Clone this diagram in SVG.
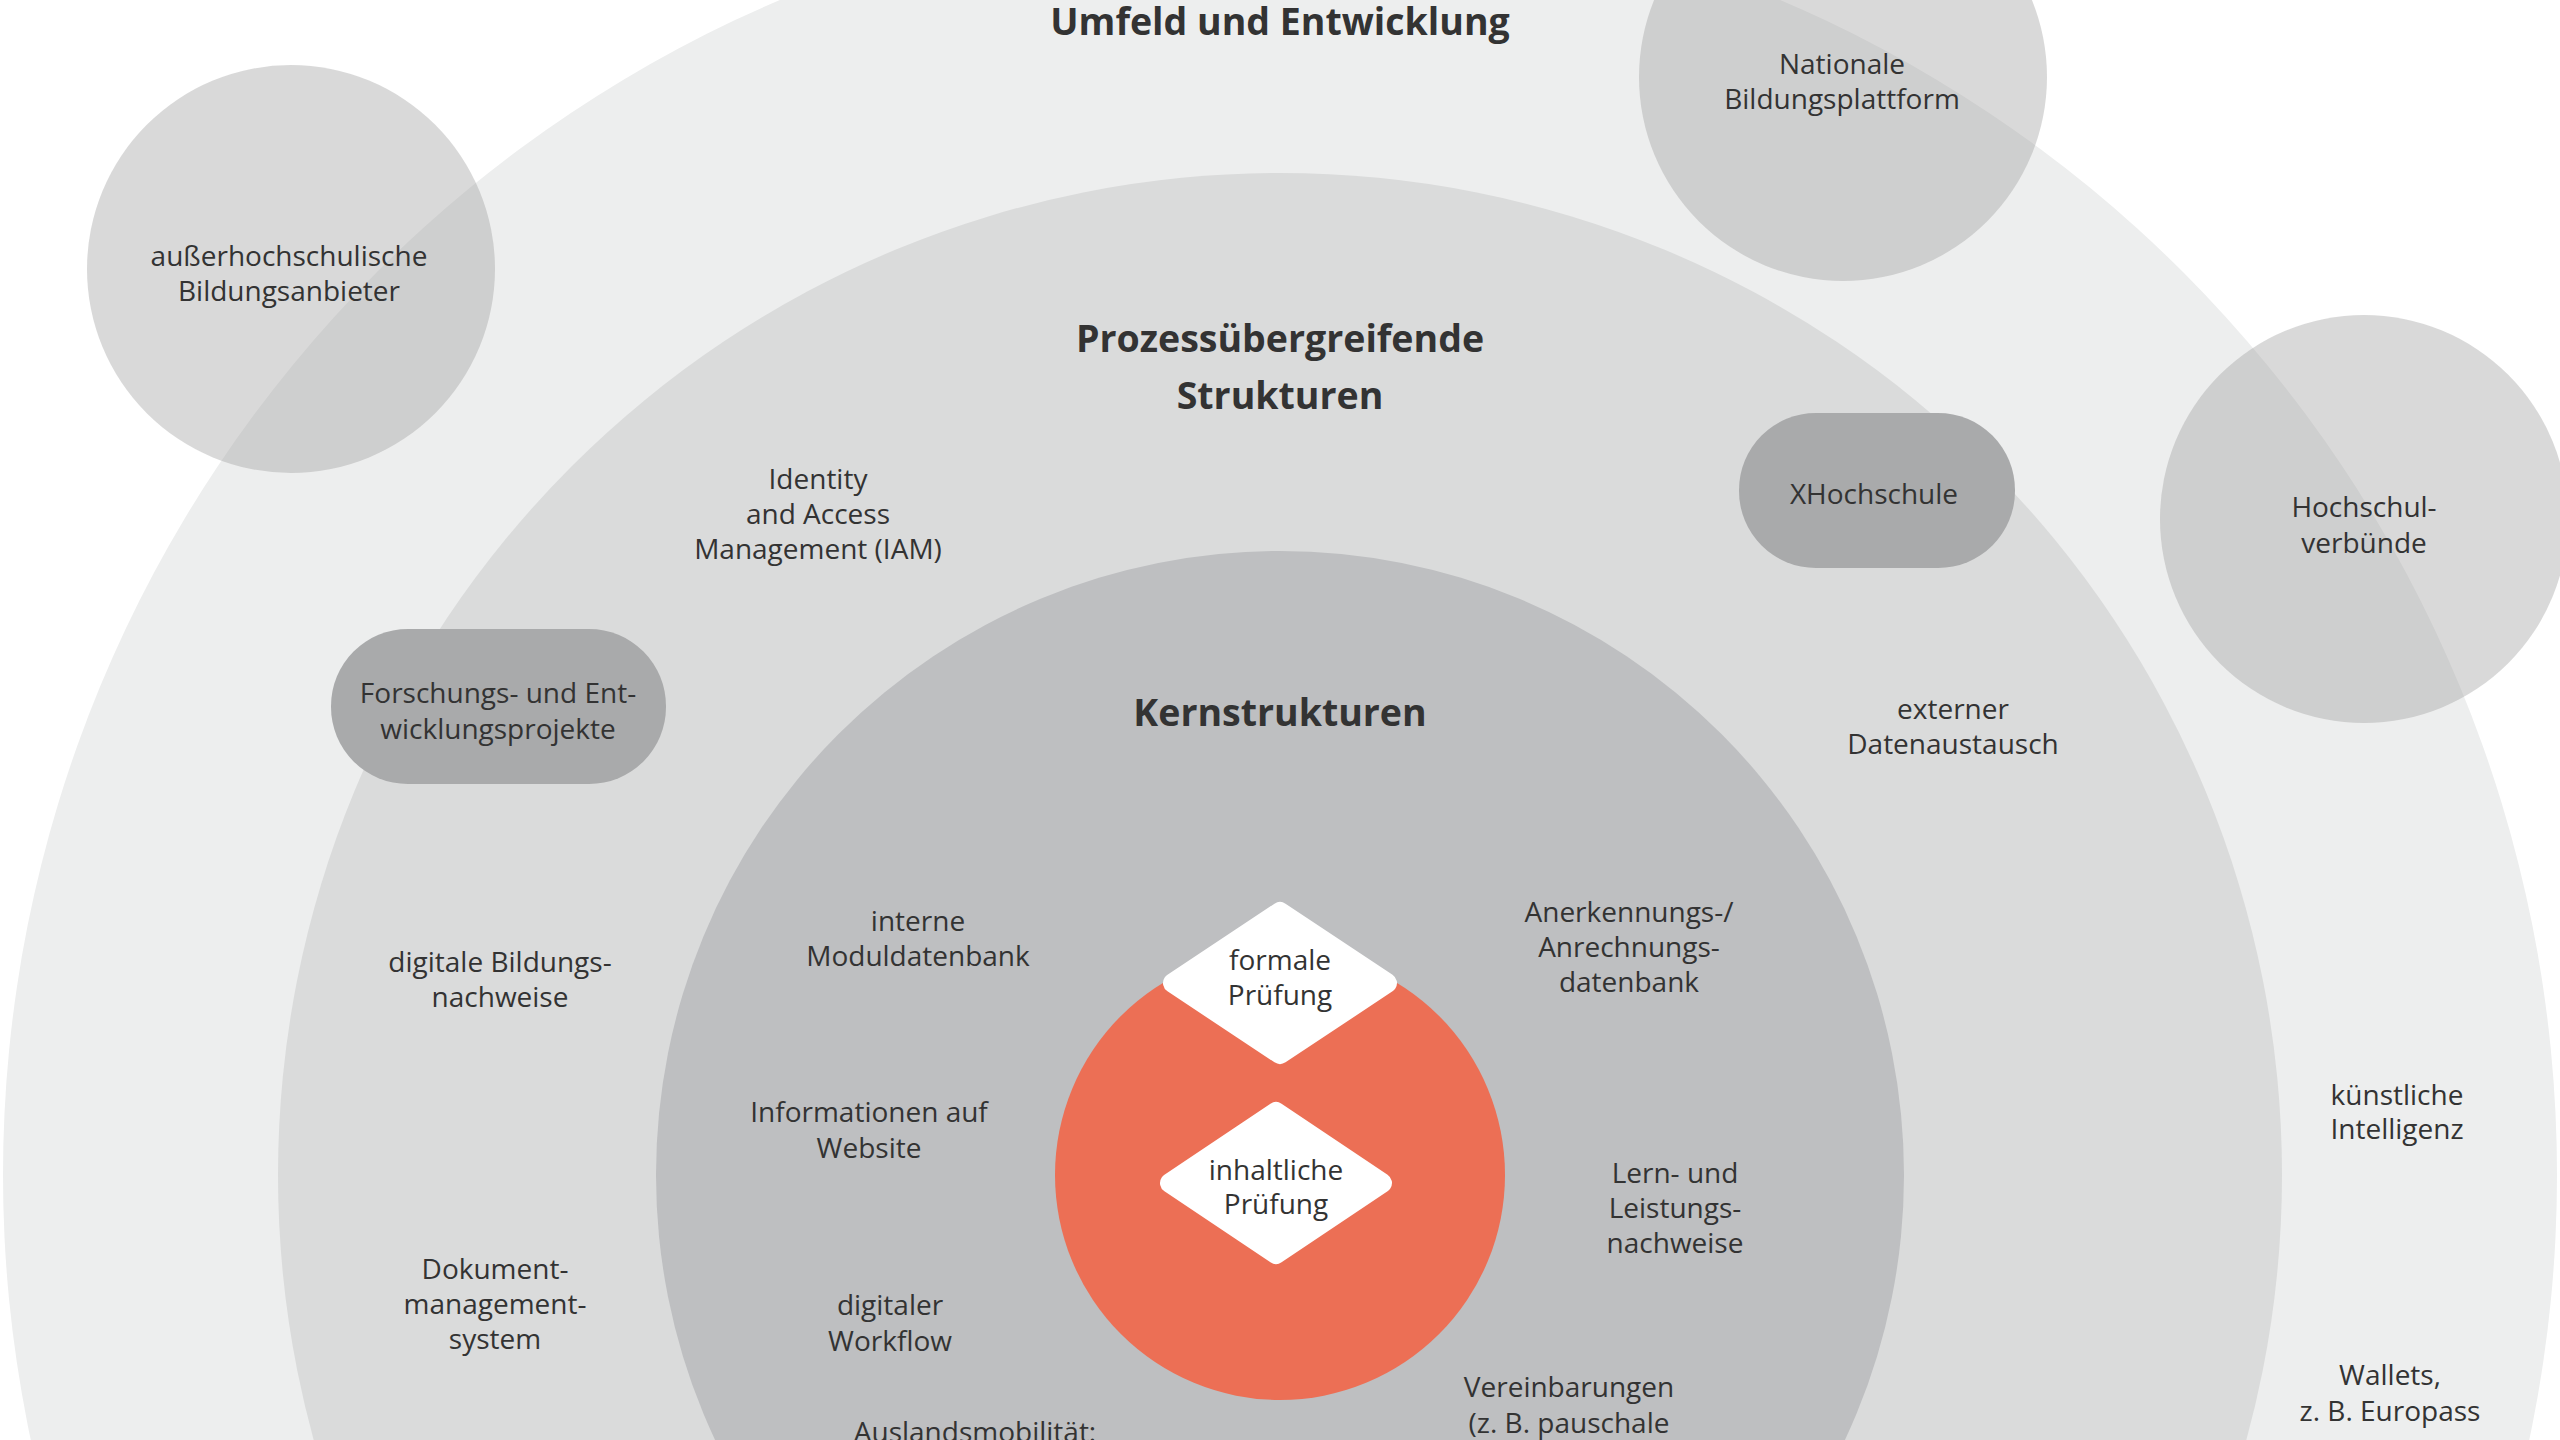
<svg xmlns="http://www.w3.org/2000/svg" width="2560" height="1440" viewBox="0 0 2560 1440">
  <style>
    .lbl { font-family: "Open Sans", "Liberation Sans", sans-serif; font-size: 28px; fill: #333333; text-anchor: middle; }
    .ttl { font-weight: 700; font-size: 37.5px; }
    .sat { fill: #a0a0a0; fill-opacity: 0.4; }
    .pill { fill: #a9aaab; }
    .dia { fill: #ffffff; stroke: #ffffff; stroke-width: 20; stroke-linejoin: round; }
  </style>
  <rect width="2560" height="1440" fill="#ffffff"/>

  <!-- concentric layers, all centred on (1280,1175) -->
  <g id="ring-umfeld"><circle cx="1280" cy="1175" r="1277" fill="#edeeee"/></g>
  <g id="ring-prozess"><circle cx="1280" cy="1175" r="1002" fill="#dadbdb"/></g>
  <g id="ring-kern"><circle cx="1280" cy="1175" r="624" fill="#bebfc1"/></g>
  <g id="core"><circle cx="1280" cy="1175" r="225" fill="#ec6f55"/></g>

  <!-- layer titles -->
  <g id="title-umfeld"><text class="lbl ttl" x="1280" y="35">Umfeld und Entwicklung</text></g>
  <g id="title-prozess">
    <text class="lbl ttl" x="1280" y="352">Prozessübergreifende</text>
    <text class="lbl ttl" x="1280" y="409">Strukturen</text>
  </g>
  <g id="title-kern"><text class="lbl ttl" x="1280" y="726">Kernstrukturen</text></g>

  <!-- external actors (translucent circles) -->
  <g id="node-ausserhochschulisch">
    <circle class="sat" cx="291" cy="269" r="204"/>
    <text class="lbl" x="289" y="266">außerhochschulische</text>
    <text class="lbl" x="289" y="301">Bildungsanbieter</text>
  </g>
  <g id="node-bildungsplattform">
    <circle class="sat" cx="1843" cy="77" r="204"/>
    <text class="lbl" x="1842" y="74">Nationale</text>
    <text class="lbl" x="1842" y="109">Bildungsplattform</text>
  </g>
  <g id="node-hochschulverbuende">
    <circle class="sat" cx="2364" cy="519" r="204"/>
    <text class="lbl" x="2364" y="517">Hochschul-</text>
    <text class="lbl" x="2364" y="553">verbünde</text>
  </g>

  <!-- rounded boxes -->
  <g id="node-forschung">
    <rect class="pill" x="331" y="629" width="335" height="155" rx="77"/>
    <text class="lbl" x="498" y="703">Forschungs- und Ent-</text>
    <text class="lbl" x="498" y="739">wicklungsprojekte</text>
  </g>
  <g id="node-xhochschule">
    <rect class="pill" x="1739" y="413" width="276" height="155" rx="77"/>
    <text class="lbl" x="1874" y="504">XHochschule</text>
  </g>

  <!-- outer layer labels -->
  <g id="node-ki">
    <text class="lbl" x="2397" y="1105">künstliche</text>
    <text class="lbl" x="2397" y="1139">Intelligenz</text>
  </g>
  <g id="node-wallets">
    <text class="lbl" x="2390" y="1385">Wallets,</text>
    <text class="lbl" x="2390" y="1421">z. B. Europass</text>
  </g>

  <!-- middle layer labels -->
  <g id="node-iam">
    <text class="lbl" x="818" y="489">Identity</text>
    <text class="lbl" x="818" y="524">and Access</text>
    <text class="lbl" x="818" y="559">Management (IAM)</text>
  </g>
  <g id="node-datenaustausch">
    <text class="lbl" x="1953" y="719">externer</text>
    <text class="lbl" x="1953" y="754">Datenaustausch</text>
  </g>
  <g id="node-bildungsnachweise">
    <text class="lbl" x="500" y="972">digitale Bildungs-</text>
    <text class="lbl" x="500" y="1007">nachweise</text>
  </g>
  <g id="node-dms">
    <text class="lbl" x="495" y="1279">Dokument-</text>
    <text class="lbl" x="495" y="1314">management-</text>
    <text class="lbl" x="495" y="1349">system</text>
  </g>

  <!-- core layer labels -->
  <g id="node-moduldatenbank">
    <text class="lbl" x="918" y="931">interne</text>
    <text class="lbl" x="918" y="966">Moduldatenbank</text>
  </g>
  <g id="node-anerkennung">
    <text class="lbl" x="1629" y="922">Anerkennungs-/</text>
    <text class="lbl" x="1629" y="957">Anrechnungs-</text>
    <text class="lbl" x="1629" y="992">datenbank</text>
  </g>
  <g id="node-website">
    <text class="lbl" x="869" y="1122">Informationen auf</text>
    <text class="lbl" x="869" y="1158">Website</text>
  </g>
  <g id="node-nachweise">
    <text class="lbl" x="1675" y="1183">Lern- und</text>
    <text class="lbl" x="1675" y="1218">Leistungs-</text>
    <text class="lbl" x="1675" y="1253">nachweise</text>
  </g>
  <g id="node-workflow">
    <text class="lbl" x="890" y="1315">digitaler</text>
    <text class="lbl" x="890" y="1351">Workflow</text>
  </g>
  <g id="node-vereinbarungen">
    <text class="lbl" x="1569" y="1397">Vereinbarungen</text>
    <text class="lbl" x="1569" y="1433">(z. B. pauschale</text>
  </g>
  <g id="node-auslandsmobilitaet">
    <text class="lbl" x="975" y="1442">Auslandsmobilität:</text>
  </g>

  <!-- review steps (diamonds) -->
  <g id="node-formale-pruefung">
    <polygon class="dia" points="1280,912 1387,983 1280,1054 1173,983"/>
    <text class="lbl" x="1280" y="970">formale</text>
    <text class="lbl" x="1280" y="1005">Prüfung</text>
  </g>
  <g id="node-inhaltliche-pruefung">
    <polygon class="dia" points="1276,1112 1382,1183 1276,1254 1170,1183"/>
    <text class="lbl" x="1276" y="1180">inhaltliche</text>
    <text class="lbl" x="1276" y="1214">Prüfung</text>
  </g>
</svg>
